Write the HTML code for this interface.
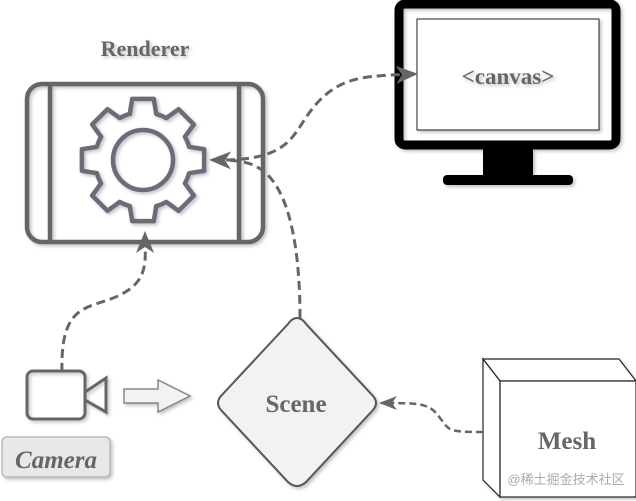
<!DOCTYPE html>
<html><head><meta charset="utf-8"><style>
html,body{margin:0;padding:0;background:#fff;}
svg{display:block;}
text{font-family:"Liberation Serif",serif;font-weight:bold;fill:#666;}
</style></head><body>
<svg width="636" height="501" viewBox="0 0 636 501" xmlns="http://www.w3.org/2000/svg">
<defs>
<filter id="sh" x="-20%" y="-20%" width="140%" height="140%"><feDropShadow dx="2" dy="2" stdDeviation="1.5" flood-color="#99a" flood-opacity="0.6"/></filter>
<marker id="ah" markerWidth="22" markerHeight="18" refX="19" refY="9" orient="auto-start-reverse" markerUnits="userSpaceOnUse" viewBox="0 0 22 18">
<path d="M0,0 L22,9 L0,18 L6,9 Z" fill="#666"/></marker>
<marker id="ah2" markerWidth="18" markerHeight="14" refX="16" refY="7" orient="auto" markerUnits="userSpaceOnUse" viewBox="0 0 18 14">
<path d="M0,0 L18,7 L0,14 L5,7 Z" fill="#666"/></marker>
</defs>
<!-- Renderer -->
<text x="145" y="56" font-size="22" text-anchor="middle" filter="url(#sh)">Renderer</text>
<g filter="url(#sh)" stroke="#666" stroke-width="4.5" fill="none">
<rect x="27" y="84" width="236" height="158" rx="15"/>
<line x1="50" y1="84" x2="50" y2="242"/>
<line x1="239" y1="84" x2="239" y2="242"/>
</g>
<g filter="url(#sh)" transform="translate(143,160)" stroke="#6a6d78" stroke-width="4.5" fill="none" stroke-linejoin="round" stroke-linecap="round">
<g id="tooth"><path d="M-13.2,-46.1 L-10.8,-61.1 L10.8,-61.1 L13.2,-46.1 A48 48 0 0 1 23.3,-42"/></g>
<use href="#tooth" transform="rotate(45)"/>
<use href="#tooth" transform="rotate(90)"/>
<use href="#tooth" transform="rotate(135)"/>
<use href="#tooth" transform="rotate(180)"/>
<use href="#tooth" transform="rotate(225)"/>
<use href="#tooth" transform="rotate(270)"/>
<use href="#tooth" transform="rotate(315)"/>
<circle r="30"/>
</g>
<!-- Monitor -->
<g filter="url(#sh)">
<rect x="399" y="4" width="217" height="141" rx="6" fill="none" stroke="#000" stroke-width="9"/>
<rect x="417" y="19" width="182" height="111" fill="#fff" stroke="#222" stroke-width="1"/>
<rect x="483" y="149" width="50" height="28" fill="#000"/>
<rect x="443" y="175" width="130" height="10" rx="4" fill="#000"/>
</g>
<text x="508" y="84" font-size="23" text-anchor="middle" filter="url(#sh)">&lt;canvas&gt;</text>
<!-- Camera -->
<g filter="url(#sh)" stroke="#666" stroke-width="3" fill="none">
<rect x="27" y="371" width="58" height="48" rx="6"/>
<path d="M85,392 L106,378 L106,412 L85,400"/>
</g>
<rect x="2" y="437" width="108" height="40" rx="5" fill="#e8e8e8" stroke="#bbb" stroke-width="1.5" filter="url(#sh)"/>
<text x="56" y="468" font-size="25" font-style="italic" text-anchor="middle">Camera</text>
<!-- block arrow -->
<path d="M124,389 L158,389 L158,380 L190,396 L158,412 L158,403 L124,403 Z" fill="#f2f2f2" stroke="#888" stroke-width="1.5" filter="url(#sh)"/>
<!-- Scene -->
<path d="M297,318 Q302,318 306,324 L373,396 Q379,403 373,410 L306,482 Q297,490 288,482 L221,410 Q215,403 221,396 L288,324 Q292,318 297,318 Z" fill="#f2f2f2" stroke="#555" stroke-width="2" filter="url(#sh)"/>
<text x="296" y="412" font-size="25" text-anchor="middle">Scene</text>
<!-- Mesh -->
<g filter="url(#sh)" stroke="#222" stroke-width="1.2" fill="#fff">
<path d="M483,359 L619,359 L636,381 L500,381 Z"/>
<path d="M483,359 L500,381 L500,497 L483,480 Z"/>
<rect x="500" y="381" width="136" height="116"/>
</g>
<text x="567" y="449" font-size="25" text-anchor="middle">Mesh</text>
<text x="566" y="484" font-size="13" text-anchor="middle" style="font-family:'Liberation Sans','Noto Sans CJK SC',sans-serif;fill:#aaa;font-weight:normal">@稀土掘金技术社区</text>
<!-- connectors -->
<g fill="none" stroke="#666" stroke-width="3" stroke-dasharray="9 5">
<path d="M212,160 C300,162 290,130 320,100 C345,75 370,76 415,74" marker-start="url(#ah)" marker-end="url(#ah)"/>
<path d="M300,318 C300,250 290,190 262,170 C250,162 240,160 215,160"/>
<path d="M62,372 C60,300 90,310 120,295 C150,280 145,260 145,234" marker-end="url(#ah)"/>
<path d="M483,432 C445,432 450,430 440,418 C430,403 420,403 381,403" stroke-width="2.5" stroke-dasharray="7 4" marker-end="url(#ah2)"/>
</g>
</svg>
</body></html>
